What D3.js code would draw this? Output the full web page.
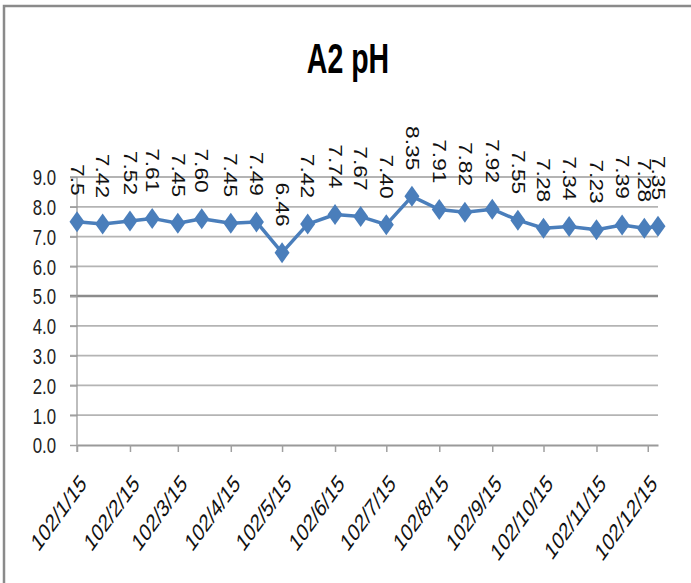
<!DOCTYPE html>
<html><head><meta charset="utf-8">
<script src="https://cdn.jsdelivr.net/npm/d3@7"></script>
<style>body{margin:0;background:#fff}svg{display:block}</style></head>
<body><svg id="c" width="691" height="583"></svg>
<script>
const sampleDates = ["2013-01-15","2013-01-30","2013-02-15","2013-02-28","2013-03-15","2013-03-29","2013-04-15","2013-04-30","2013-05-15","2013-05-30","2013-06-15","2013-06-30","2013-07-15","2013-07-30","2013-08-15","2013-08-30","2013-09-15","2013-09-30","2013-10-15","2013-10-30","2013-11-15","2013-11-30","2013-12-13","2013-12-21"];
const phValues = [7.5,7.42,7.52,7.61,7.45,7.60,7.45,7.49,6.46,7.42,7.74,7.67,7.40,8.35,7.91,7.82,7.92,7.55,7.28,7.34,7.23,7.39,7.28,7.35];
const valueLabels = ["7.5","7.42","7.52","7.61","7.45","7.60","7.45","7.49","6.46","7.42","7.74","7.67","7.40","8.35","7.91","7.82","7.92","7.55","7.28","7.34","7.23","7.39","7.28","7.35"];
const yTicks = [0,1,2,3,4,5,6,7,8,9];
const xTickDates = ["2013-01-15","2013-02-15","2013-03-15","2013-04-15","2013-05-15","2013-06-15","2013-07-15","2013-08-15","2013-09-15","2013-10-15","2013-11-15","2013-12-15"];
const xTickLabels = ["102/1/15","102/2/15","102/3/15","102/4/15","102/5/15","102/6/15","102/7/15","102/8/15","102/9/15","102/10/15","102/11/15","102/12/15"];
const title = "A2 pH";

const parse = d3.utcParse("%Y-%m-%d");
const pts = sampleDates.map((d,i)=>({d:parse(d), v:phValues[i], t:valueLabels[i]}));
const svg = d3.select("#c");
const SY = 1.3;
const blue = "#4a7ebb";

// border
svg.append("path").attr("d","M4,583 V6 H691").attr("fill","none").attr("stroke","#8a8a8a").attr("stroke-width",2.5);

const x = d3.scaleUtc().domain([pts[0].d, pts[pts.length-1].d]).range([77,658]);
const y = d3.scaleLinear().domain([0,9]).range([445,177]);

// gridlines
svg.append("g").selectAll("line").data(yTicks.filter(v=>v>0)).join("line")
  .attr("x1",70).attr("x2",658).attr("y1",d=>y(d)).attr("y2",d=>y(d))
  .attr("stroke",d=>d===5?"#8c8c8c":"#b4b4b4").attr("stroke-width",d=>d===5?2.5:1.8);

// y axis
const ya = svg.append("g").attr("transform","translate(77,0)")
  .call(d3.axisLeft(y).tickValues(yTicks).tickFormat(d3.format(".1f")).tickSize(7));
ya.select(".domain").remove();
ya.selectAll(".tick line").attr("stroke","#a0a0a0").attr("stroke-width",1.5);
ya.selectAll(".tick text").attr("x",null).attr("dy","0.36em")
  .attr("transform",`translate(-21,0) scale(1,${SY})`)
  .attr("font-family","Liberation Sans, Arial, sans-serif").attr("font-size",16.8).attr("fill","#222");
svg.append("line").attr("x1",77).attr("x2",77).attr("y1",y(9)).attr("y2",452).attr("stroke","#9a9a9a").attr("stroke-width",1.3);

// x axis
const xa = svg.append("g").attr("transform","translate(0,445)")
  .call(d3.axisBottom(x).tickValues(xTickDates.map(parse)).tickFormat((d,i)=>xTickLabels[i]).tickSize(7).tickSizeOuter(0));
xa.select(".domain").attr("stroke","#9a9a9a").attr("stroke-width",2);
xa.selectAll(".tick line").attr("stroke","#a0a0a0").attr("stroke-width",1.5);
xa.selectAll(".tick text").attr("y",null).attr("dy",null)
  .attr("text-anchor","end")
  .attr("transform",`translate(10,40) scale(1,1.38) rotate(-45)`)
  .attr("font-family","Liberation Sans, Arial, sans-serif").attr("font-size",17.8).attr("fill","#111");

// line
svg.append("path").datum(pts)
  .attr("d", d3.line().x(d=>x(d.d)).y(d=>y(d.v)))
  .attr("fill","none").attr("stroke",blue).attr("stroke-width",3.5).attr("stroke-linejoin","round");

// markers
svg.append("g").selectAll("path").data(pts).join("path")
  .attr("transform",d=>`translate(${x(d.d)},${y(d.v)})`)
  .attr("d","M0,-10.5 L7.5,0 L0,10.5 L-7.5,0 Z").attr("fill",blue);

// data labels
svg.append("g").selectAll("text").data(pts).join("text")
  .attr("transform",d=>`translate(${x(d.d)},${y(d.v)-26}) scale(1,${SY}) rotate(90)`)
  .attr("text-anchor","end").attr("dy","0.36em")
  .attr("font-family","Liberation Sans, Arial, sans-serif").attr("font-size",17.5).attr("fill","#111")
  .text(d=>d.t);

// title
svg.append("text").attr("transform","translate(348,73) scale(1,1.5)")
  .attr("text-anchor","middle").attr("font-family","Liberation Sans, Arial, sans-serif")
  .attr("font-weight","bold").attr("font-size",28.5).attr("fill","#000").text(title);
</script></body></html>
